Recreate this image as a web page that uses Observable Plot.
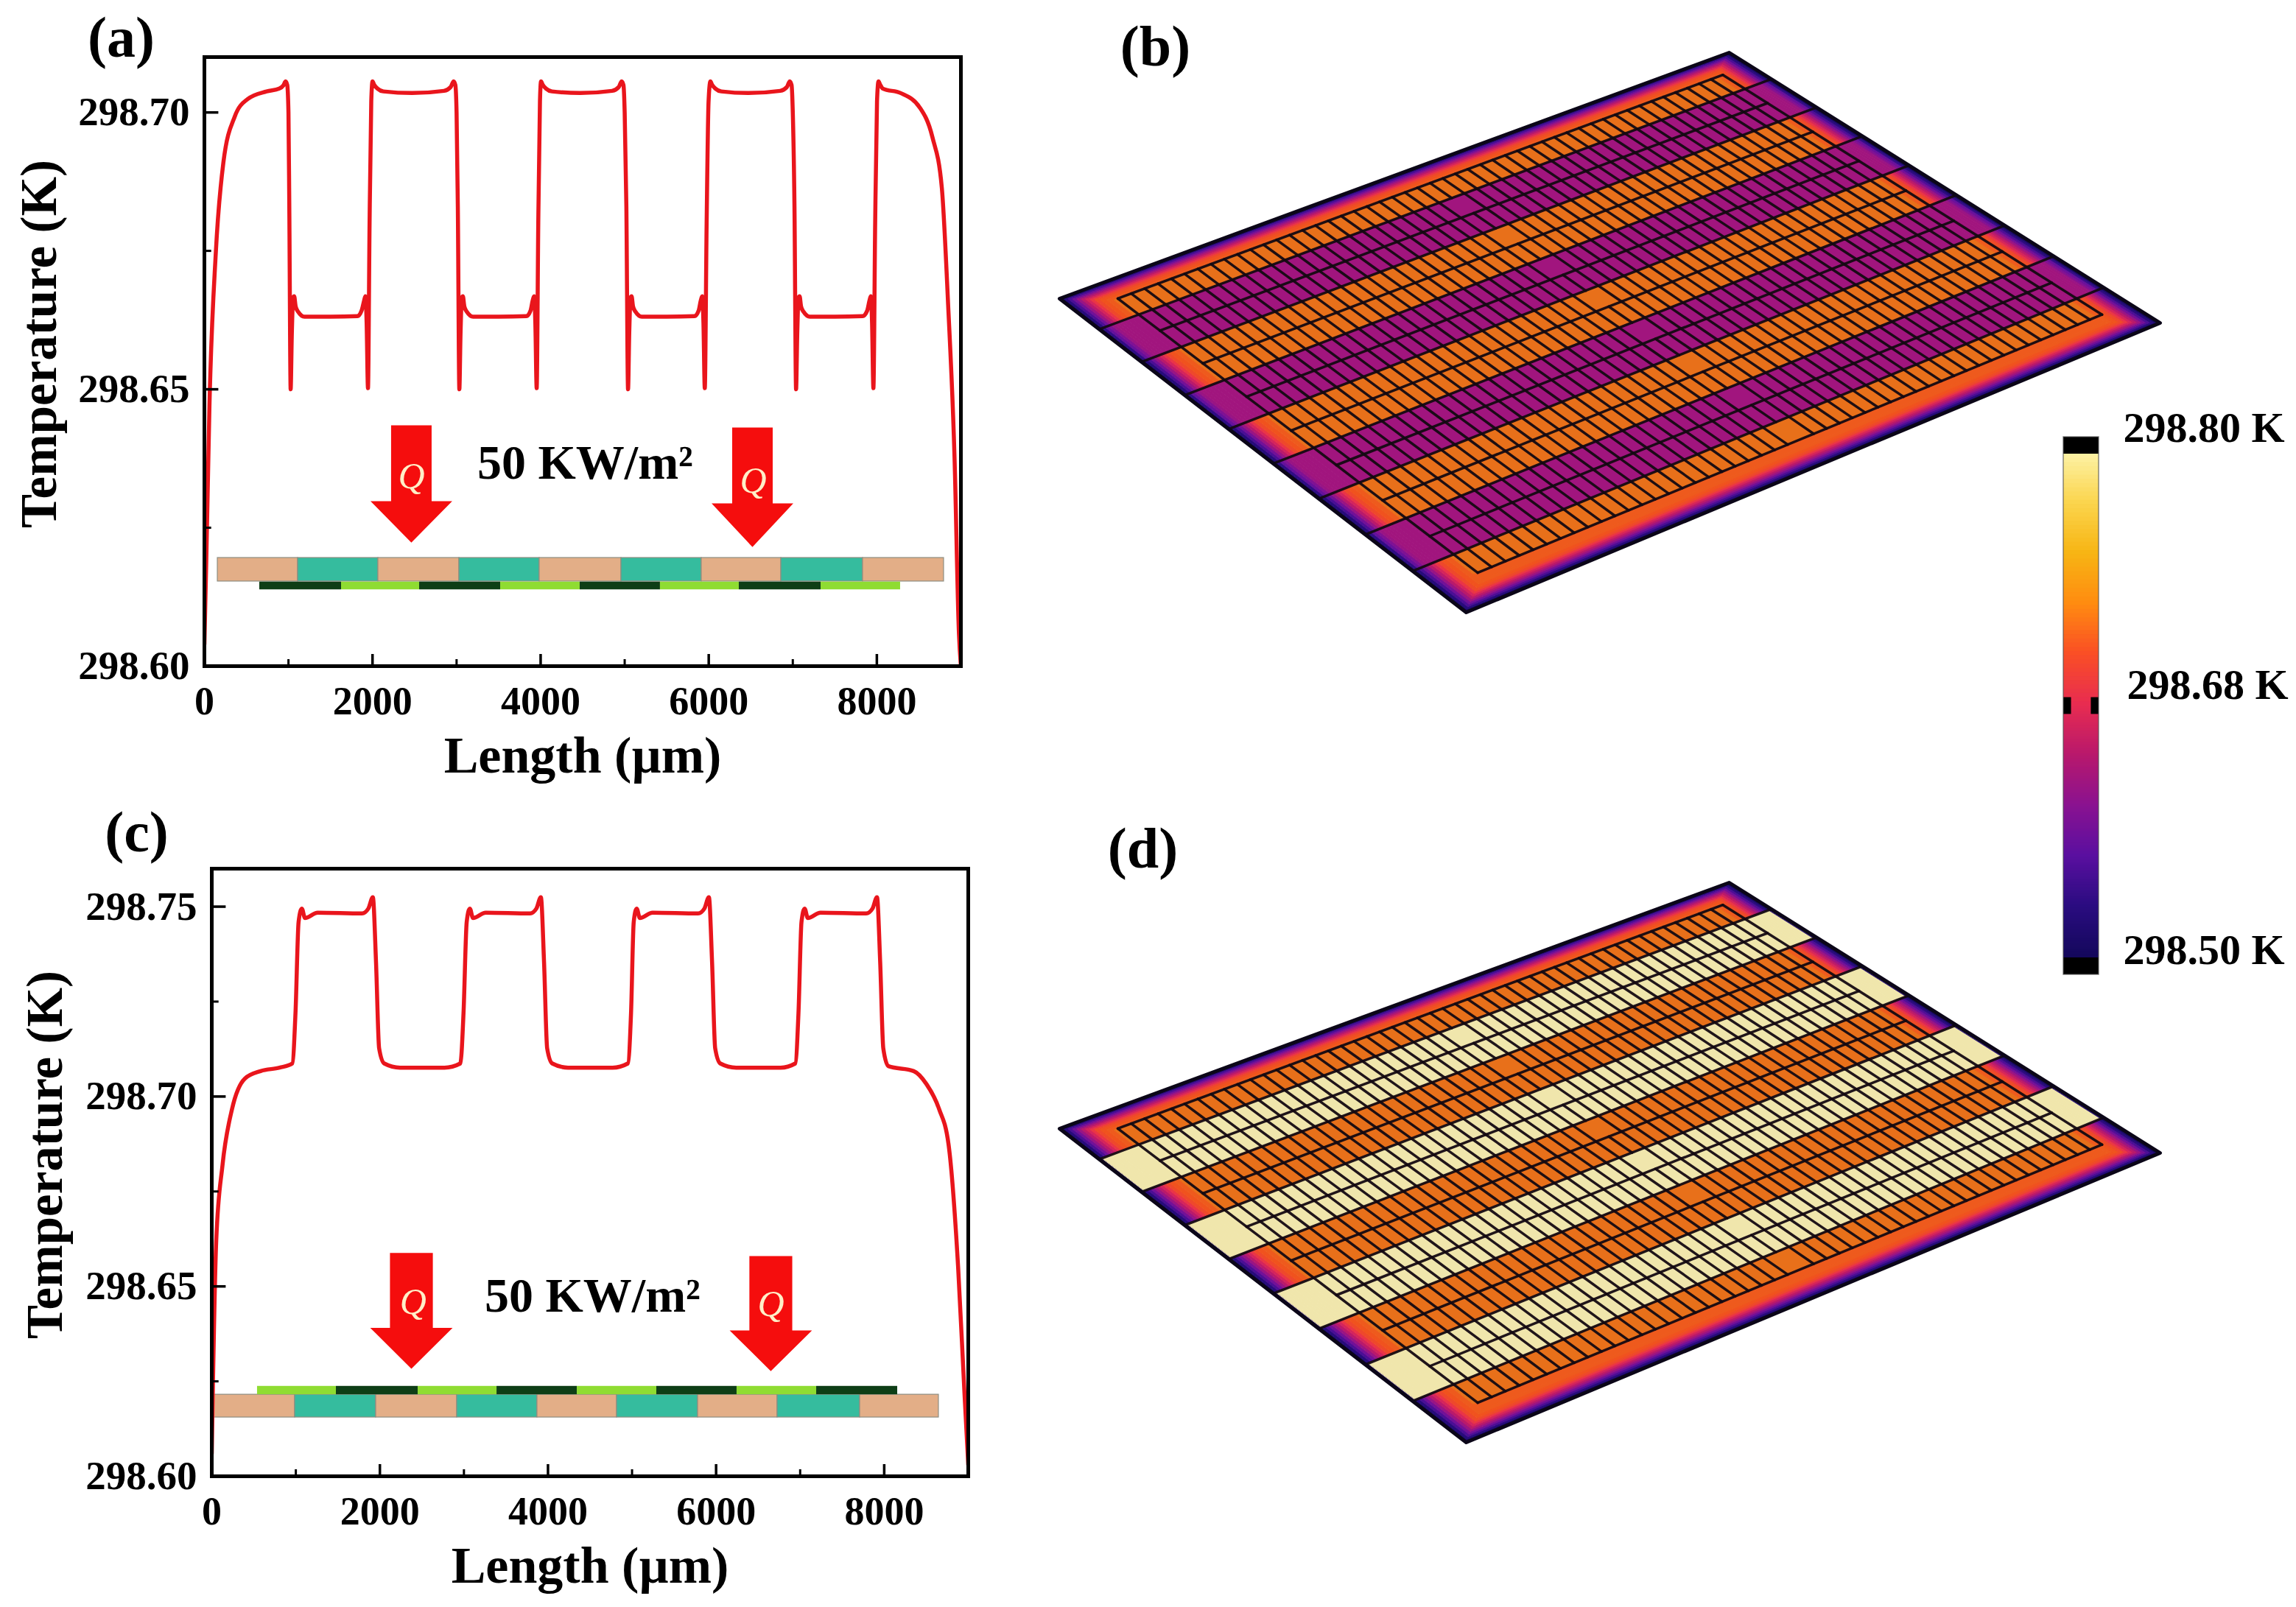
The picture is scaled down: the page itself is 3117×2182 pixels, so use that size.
<!DOCTYPE html>
<html>
<head>
<meta charset="utf-8">
<script src="https://cdn.jsdelivr.net/npm/d3@7"></script>
<script src="https://cdn.jsdelivr.net/npm/@observablehq/plot@0.6"></script>
<style>
html,body{margin:0;padding:0;background:#fff;}
#root{position:relative;width:3117px;height:2182px;overflow:hidden;background:#fff;}
#root svg{position:absolute;max-width:none;background:transparent;}
</style>
</head>
<body>
<div id="root"></div>
<script>
// ---------- Panel (a) temperature profile ----------
const aX = [0,23,60,135,226,362,513,740,890,940,966,985,1000,1010,1026,1040,1055,1068,1085,1115,1190,1500,1820,1870,1900,1915,1930,1946,1965,1985,2000,2020,2060,2130,2470,2850,2930,2965,2985,3000,3015,3033,3047,3062,3075,3092,3122,3197,3500,3830,3880,3905,3922,3937,3953,3972,3992,4005,4025,4065,4135,4470,4850,4930,4964,4985,5000,5020,5040,5054,5069,5082,5099,5129,5204,5500,5830,5880,5905,5922,5937,5953,5975,5998,6020,6040,6080,6150,6470,6850,6930,6964,6985,7000,7020,7039,7053,7068,7081,7098,7128,7203,7500,7830,7885,7912,7928,7943,7959,7980,8002,8020,8040,8072,8283,8510,8660,8773,8848,8924,8977,9000];
const aT = [298.604,298.6195,298.647,298.6745,298.691,298.6993,298.7024,298.7038,298.7043,298.7049,298.7056,298.705,298.700,298.683,298.650,298.660,298.6665,298.6668,298.665,298.664,298.6631,298.6631,298.6632,298.6642,298.666,298.6668,298.662,298.6502,298.680,298.702,298.7056,298.705,298.7043,298.7038,298.7035,298.7039,298.7046,298.7056,298.705,298.700,298.683,298.650,298.660,298.6665,298.6668,298.665,298.664,298.6631,298.6631,298.6632,298.6642,298.666,298.6668,298.662,298.6502,298.680,298.702,298.7056,298.705,298.7043,298.7038,298.7035,298.7039,298.7046,298.7056,298.705,298.700,298.683,298.650,298.660,298.6665,298.6668,298.665,298.664,298.6631,298.6631,298.6632,298.6642,298.666,298.6668,298.662,298.6502,298.680,298.702,298.7056,298.705,298.7043,298.7038,298.7035,298.7039,298.7046,298.7056,298.705,298.700,298.683,298.650,298.660,298.6665,298.6668,298.665,298.664,298.6631,298.6631,298.6632,298.6642,298.666,298.6668,298.662,298.6502,298.680,298.702,298.7056,298.705,298.7043,298.7035,298.7009,298.6956,298.6864,298.6653,298.6378,298.6058,298.600];

// ---------- Panel (c) temperature profile ----------
const cX = [0,15,53,128,241,392,581,807,958,996,1033,1071,1109,1260,1788,1863,1916,1954,1991,2052,2240,2769,2957,2995,3033,3070,3108,3259,3787,3862,3915,3953,3990,4051,4239,4768,4950,4988,5020,5055,5093,5244,5786,5861,5914,5952,5989,6050,6238,6767,6942,6980,7016,7053,7091,7242,7786,7861,7914,7952,7989,8050,8351,8502,8653,8766,8879,8955,9000];
const cT = [298.606,298.6258,298.662,298.682,298.6967,298.7047,298.7067,298.7076,298.7087,298.722,298.746,298.7495,298.747,298.7484,298.7482,298.7495,298.7525,298.7354,298.7127,298.7087,298.7076,298.7076,298.7087,298.722,298.746,298.7495,298.747,298.7484,298.7482,298.7495,298.7525,298.7354,298.7127,298.7087,298.7076,298.7076,298.7087,298.722,298.746,298.7495,298.747,298.7484,298.7482,298.7495,298.7525,298.7354,298.7127,298.7087,298.7076,298.7076,298.7087,298.722,298.746,298.7495,298.747,298.7484,298.7482,298.7495,298.7525,298.7354,298.7127,298.708,298.7067,298.7033,298.6967,298.6873,298.6552,298.6218,298.603];

// ---------- Axis ticks ----------
const xLabelTicks = [0,2000,4000,6000,8000];
const xMinorTicks = [1000,3000,5000,7000];
const aYMajor = [298.60,298.65,298.70];
const aYMinor = [298.625,298.675];
const cYMajor = [298.60,298.65,298.70,298.75];
const cYMinor = [298.625,298.675,298.725];

// ---------- Inset device sketches (x in µm, y in K) ----------
const aBarEdges = [158,1113,2068,3032,3987,4960,5915,6862,7834,8798];
const aStripEdges = [657,1630,2559,3523,4469,5424,6362,7335,8281];
const aBarY = [298.6153,298.61955];
const aStripY = [298.6138,298.6152];
const cBarEdges = [26,990,1954,2918,3873,4820,5784,6730,7712,8649];
const cStripEdges = [543,1481,2454,3392,4347,5293,6248,7195,8159];
const cBarY = [298.6155,298.6215];
const cStripY = [298.6215,298.6237];
const barColors = ["#E3AE87","#35BC9E"];
const aStripColors = ["#0E3E16","#8FDC32"];
const cStripColors = ["#8FDC32","#0E3E16"];

// ---------- Heat arrows: centre, half shaft, half head, top, neck, tip ----------
const aArrows = [[2462,241,486,298.6435,298.6298,298.6223],[6520,241,486,298.6431,298.6294,298.6215]];
const cArrows = [[2375,255,490,298.6588,298.6391,298.6283],[6651,255,490,298.658,298.6384,298.6277]];
const aQ = [[2462,298.6342],[6530,298.6335]];
const cQ = [[2395,298.6458],[6651,298.6452]];
const fluxLabel = "50 KW/m²";

// ---------- Colour bar ----------
const stopT = [298.50,298.536,298.572,298.608,298.644,298.68,298.704,298.728,298.752,298.776,298.80];
const stopC = ["#14085C","#2A0C80","#5A0FA0","#8A1290","#B8186C","#E82C50","#FA4F25","#FF8C10","#F7B514","#FBD54E","#FDF3A8"];
const barLabels = ["298.50 K","298.68 K","298.80 K"];
const barLabelT = [298.50,298.68,298.80];

// ---------- Plate views (b), (d) ----------
// corners: left, top, right, bottom
const plateCorners = [[1438,405],[2347,71],[2932,438],[1990,831]];
const plateLetterB = [1568,64];
const plateLetterD = [1551,26];
const plateStopT = [298.50,298.536,298.572,298.608,298.644,298.68,298.704,298.72,298.76,298.80];
const plateStopC = ["#14085C","#2A0C80","#5A0FA0","#8A1290","#B8186C","#E82C50","#F0521E","#E8701A","#F0B030","#F0E6AC"];
const bBandT = [298.72,298.626,298.72,298.626,298.72,298.626,298.72,298.626,298.72];
const dBandT = [298.72,298.80,298.72,298.80,298.72,298.80,298.72,298.80,298.72];
const edgeStops = [0,.004,.008,.012,.016,.02,.024,.028,.032,.037,.043,.05];
const edgeT  = [298.50,298.53,298.56,298.59,298.62,298.645,298.665,298.685,298.698,298.704,298.708];
const bOddEdgeT = [298.50,298.54,298.58,298.60,298.62,298.626,298.626,298.626,298.626,298.626,298.626];
const dOddEdgeT = [298.52,298.80,298.80,298.80,298.80,298.80,298.80,298.80,298.80,298.80,298.80];
const innerU = [0.055,0.958];
const innerV = [0.05,0.933];
const rowCount = 16;
const cellsPerRow = 48;

const serif = "'Liberation Serif','Times New Roman',serif";
const root = document.getElementById("root");
const place = (svg, left, top) => { svg.style.left = left + "px"; svg.style.top = top + "px"; root.appendChild(svg); };

function arrowPolys(list) {
  return list.flatMap(([c, s, h, top, neck, tip], id) => [
    [c - s, top], [c + s, top], [c + s, neck], [c + h, neck], [c, tip], [c - h, neck], [c - s, neck]
  ].map(([x, y]) => ({id, x, y})));
}
function cellsFrom(edges, y, colors) {
  return d3.pairs(edges).map(([x1, x2], i) => ({x1, x2, y1: y[0], y2: y[1], fill: colors[i % 2]}));
}

function profilePanel(o) {
  const line = o.X.map((x, i) => ({x, y: o.T[i]}));
  const dy = o.ySpan;
  return Plot.plot({
    width: o.width, height: o.height,
    marginLeft: o.m[0], marginTop: o.m[1], marginRight: o.m[2], marginBottom: o.m[3],
    style: {fontFamily: serif, overflow: "visible", background: "transparent", color: "#000"},
    x: {domain: [0, 9000], axis: null},
    y: {domain: o.yDomain, axis: null},
    color: {type: "identity"},
    marks: [
      Plot.rect(cellsFrom(o.barEdges, o.barY, barColors), {x1: "x1", x2: "x2", y1: "y1", y2: "y2", fill: "fill", stroke: "#8d8d80", strokeWidth: 1.2}),
      Plot.rect(cellsFrom(o.stripEdges, o.stripY, o.stripColors), {x1: "x1", x2: "x2", y1: "y1", y2: "y2", fill: "fill"}),
      Plot.line(arrowPolys(o.arrows), {x: "x", y: "y", z: "id", fill: "#F50D0D", stroke: "none", curve: "linear-closed"}),
      Plot.text(o.q, {x: d => d[0], y: d => d[1], text: () => "Q", fontSize: 50, fontStyle: "italic", fill: "#FFEFC8"}),
      Plot.text([fluxLabel], {x: () => 4530, y: () => o.fluxY, fontSize: 66, fontWeight: "bold", fill: "#000"}),
      Plot.line(line, {x: "x", y: "y", stroke: "#E9151C", strokeWidth: 5.5, clip: true, curve: "monotone-x"}),
      Plot.ruleY(o.yMajor, {y: d => d, x1: 0, x2: 170, stroke: "#000", strokeWidth: 3.5}),
      Plot.ruleY(o.yMinor, {y: d => d, x1: 0, x2: 85, stroke: "#000", strokeWidth: 3}),
      Plot.ruleX(xLabelTicks, {x: d => d, y1: o.yDomain[0], y2: o.yDomain[0] + dy * 16, stroke: "#000", strokeWidth: 3.5}),
      Plot.ruleX(xMinorTicks, {x: d => d, y1: o.yDomain[0], y2: o.yDomain[0] + dy * 9, stroke: "#000", strokeWidth: 3}),
      Plot.frame({stroke: "#000", strokeWidth: 5}),
      Plot.axisX(xLabelTicks, {anchor: "bottom", tickSize: 0, tickPadding: 27, tickFormat: d => String(d), fontSize: 54, fontWeight: "bold", label: null, fill: "#000"}),
      Plot.axisY(o.yMajor, {anchor: "left", tickSize: 0, tickPadding: 20, tickFormat: d3.format(".2f"), fontSize: 55, fontWeight: "bold", label: null, fill: "#000"}),
      Plot.text(["Length (µm)"], {frameAnchor: "bottom", dy: o.lenDy, lineAnchor: "middle", fontSize: 70, fontWeight: "bold", fill: "#000"}),
      Plot.text(["Temperature (K)"], {frameAnchor: "left", dx: o.tempDx, dy: -24, rotate: -90, textAnchor: "middle", lineAnchor: "middle", fontSize: 69, fontWeight: "bold", fill: "#000"}),
      Plot.text([o.letter], {frameAnchor: "top-left", dx: o.letterD[0], dy: o.letterD[1], textAnchor: "middle", lineAnchor: "middle", fontSize: 78, fontWeight: "bold", fill: "#000"})
    ]
  });
}

place(profilePanel({
  width: 1350, height: 1090, m: [277, 77, 46, 186],
  X: aX, T: aT, yDomain: [298.60, 298.71], ySpan: 0.000133,
  barEdges: aBarEdges, barY: aBarY, stripEdges: aStripEdges, stripY: aStripY, stripColors: aStripColors,
  arrows: aArrows, q: aQ, fluxY: 298.6367,
  yMajor: aYMajor, yMinor: aYMinor, lenDy: 122, tempDx: -224, letter: "(a)", letterD: [-113, -25]
}), 0, 0);

place(profilePanel({
  width: 1350, height: 1082, m: [287, 79, 36, 178],
  X: cX, T: cT, yDomain: [298.60, 298.76], ySpan: 0.000194,
  barEdges: cBarEdges, barY: cBarY, stripEdges: cStripEdges, stripY: cStripY, stripColors: cStripColors,
  arrows: cArrows, q: cQ, fluxY: 298.6475,
  yMajor: cYMajor, yMinor: cYMinor, lenDy: 122, tempDx: -226, letter: "(c)", letterD: [-102, -48]
}), 0, 1100);

// perspective map from the unit square onto the plate's four corners
function plateMap([p0, p1, p2, p3]) {
  const [x0, y0] = p0, [x1, y1] = p1, [x2, y2] = p2, [x3, y3] = p3;
  const dx1 = x1 - x2, dx2 = x3 - x2, sx = x0 - x1 + x2 - x3;
  const dy1 = y1 - y2, dy2 = y3 - y2, sy = y0 - y1 + y2 - y3;
  const den = dx1 * dy2 - dx2 * dy1;
  const g = (sx * dy2 - dx2 * sy) / den, h = (dx1 * sy - sx * dy1) / den;
  const a = x1 - x0 + g * x1, b = x3 - x0 + h * x3;
  const d = y1 - y0 + g * y1, e = y3 - y0 + h * y3;
  return (u, v) => {
    const w = g * u + h * v + 1;
    return [(a * u + b * v + x0) / w, (d * u + e * v + y0) / w];
  };
}
const toPlate = plateMap(plateCorners);
const mirrored = edgeStops.map(s => 1 - s).reverse();
const rowV = d3.range(rowCount + 1).map(r => innerV[0] + r * (innerV[1] - innerV[0]) / rowCount);
const bandEdges = rowV.filter((_, r) => r % 2 === 1);
const uGrid = [...edgeStops, ...mirrored];
const vGrid = [...edgeStops, ...bandEdges, innerV[1], ...mirrored];
const edgeIndex = t => {
  const s = Math.min(t, 1 - t);
  const i = d3.bisectRight(edgeStops, s) - 1;
  return i >= edgeT.length ? -1 : i;
};

function plateCells(bandT, oddEdge) {
  const out = [];
  let id = 0;
  for (const [u1, u2] of d3.pairs(uGrid)) for (const [v1, v2] of d3.pairs(vGrid)) {
    const um = (u1 + u2) / 2, vm = (v1 + v2) / 2;
    const band = d3.bisectRight(bandEdges, vm);
    let t = bandT[band];
    const iv = edgeIndex(vm), iu = edgeIndex(um);
    if (iv >= 0) t = Math.min(t, edgeT[iv]);
    if (vm < innerV[0] || vm > innerV[1]) t = Math.min(t, edgeT[edgeT.length - 1]);
    if (iu >= 0) t = Math.min(t, band % 2 ? oddEdge[iu] : edgeT[iu]);
    for (const [u, v] of [[u1, v1], [u2, v1], [u2, v2], [u1, v2]]) {
      const [x, y] = toPlate(u, v);
      out.push({id, x, y, t});
    }
    id++;
  }
  return out;
}
function plateLines() {
  const out = [];
  let id = 0;
  const seg = (a, b) => { for (const [u, v] of [a, b]) { const [x, y] = toPlate(u, v); out.push({id, x, y}); } id++; };
  rowV.forEach((v, r) => {
    if (r % 2 === 1) seg([0, v], [1, v]); else seg([innerU[0], v], [innerU[1], v]);
  });
  d3.pairs(rowV).forEach(([v1, v2], r) => {
    for (let i = 0; i <= cellsPerRow; i++) {
      if (i === cellsPerRow / 2 && r % 2 === 1) continue;
      const u = innerU[0] + i * (innerU[1] - innerU[0]) / cellsPerRow;
      seg([u, v1], [u, v2]);
    }
  });
  return out;
}

function platePanel(bandT, oddEdge, letter, letterPos) {
  const outline = plateCorners.map(([x, y]) => ({x, y}));
  return Plot.plot({
    width: 1550, height: 860, margin: 0,
    style: {fontFamily: serif, overflow: "visible", background: "transparent", color: "#000"},
    x: {domain: [1420, 2970], axis: null},
    y: {domain: [0, 860], reverse: true, axis: null},
    color: {type: "linear", domain: plateStopT, range: plateStopC, clamp: true},
    marks: [
      Plot.line(plateCells(bandT, oddEdge), {x: "x", y: "y", z: "id", fill: "t", stroke: "t", strokeWidth: 1, curve: "linear-closed"}),
      Plot.line(plateLines(), {x: "x", y: "y", z: "id", stroke: "#140a12", strokeWidth: 3.5, strokeOpacity: 0.95}),
      Plot.line(outline, {x: "x", y: "y", curve: "linear-closed", stroke: "#0b0618", strokeWidth: 5}),
      Plot.text([letter], {x: () => letterPos[0], y: () => letterPos[1], fontSize: 78, fontWeight: "bold", fill: "#000"})
    ]
  });
}
place(platePanel(bBandT, bOddEdgeT, "(b)", plateLetterB), 1420, 0);
place(platePanel(dBandT, dOddEdgeT, "(d)", plateLetterD), 1420, 1127);

// colour bar: position along the bar is piecewise in temperature
const barPos = d3.scaleLinear([298.488, 298.50, 298.68, 298.80, 298.808], [773, 750, 408, 66, 43]);
const barSteps = d3.range(298.50, 298.80, 0.002).map(t => ({t, t2: Math.min(t + 0.0024, 298.80)}));
place(Plot.plot({
  width: 367, height: 800, margin: 0,
  style: {fontFamily: serif, overflow: "visible", background: "transparent", color: "#000"},
  x: {domain: [0, 1], range: [51, 99], axis: null},
  y: {domain: [0, 800], range: [0, 800], axis: null},
  color: {type: "linear", domain: stopT, range: stopC, clamp: true},
  marks: [
    Plot.rect(barSteps, {x1: 0, x2: 1, y1: d => barPos(d.t), y2: d => barPos(d.t2), fill: "t"}),
    Plot.rect([[298.80, 298.808], [298.488, 298.50]], {x1: 0, x2: 1, y1: d => barPos(d[0]), y2: d => barPos(d[1]), fill: "#000"}),
    Plot.rect([[0, .22], [.78, 1]], {x1: d => d[0], x2: d => d[1], y1: barPos(298.674), y2: barPos(298.684), fill: "#000"}),
    Plot.rect([[298.488, 298.808]], {x1: 0, x2: 1, y1: d => barPos(d[0]), y2: d => barPos(d[1]), fill: "none", stroke: "#555", strokeWidth: 1.5, strokeOpacity: 0.7}),
    Plot.text([barLabels[2]], {x: () => 1, y: () => barPos(barLabelT[2]), dx: 33, dy: -35, textAnchor: "start", fontSize: 58, fontWeight: "bold", fill: "#000"}),
    Plot.text([barLabels[1]], {x: () => 1, y: () => barPos(barLabelT[1]), dx: 38, dy: -28, textAnchor: "start", fontSize: 58, fontWeight: "bold", fill: "#000"}),
    Plot.text([barLabels[0]], {x: () => 1, y: () => barPos(barLabelT[0]), dx: 33, dy: -10, textAnchor: "start", fontSize: 58, fontWeight: "bold", fill: "#000"})
  ]
}), 2750, 550);
</script>
</body>
</html>
